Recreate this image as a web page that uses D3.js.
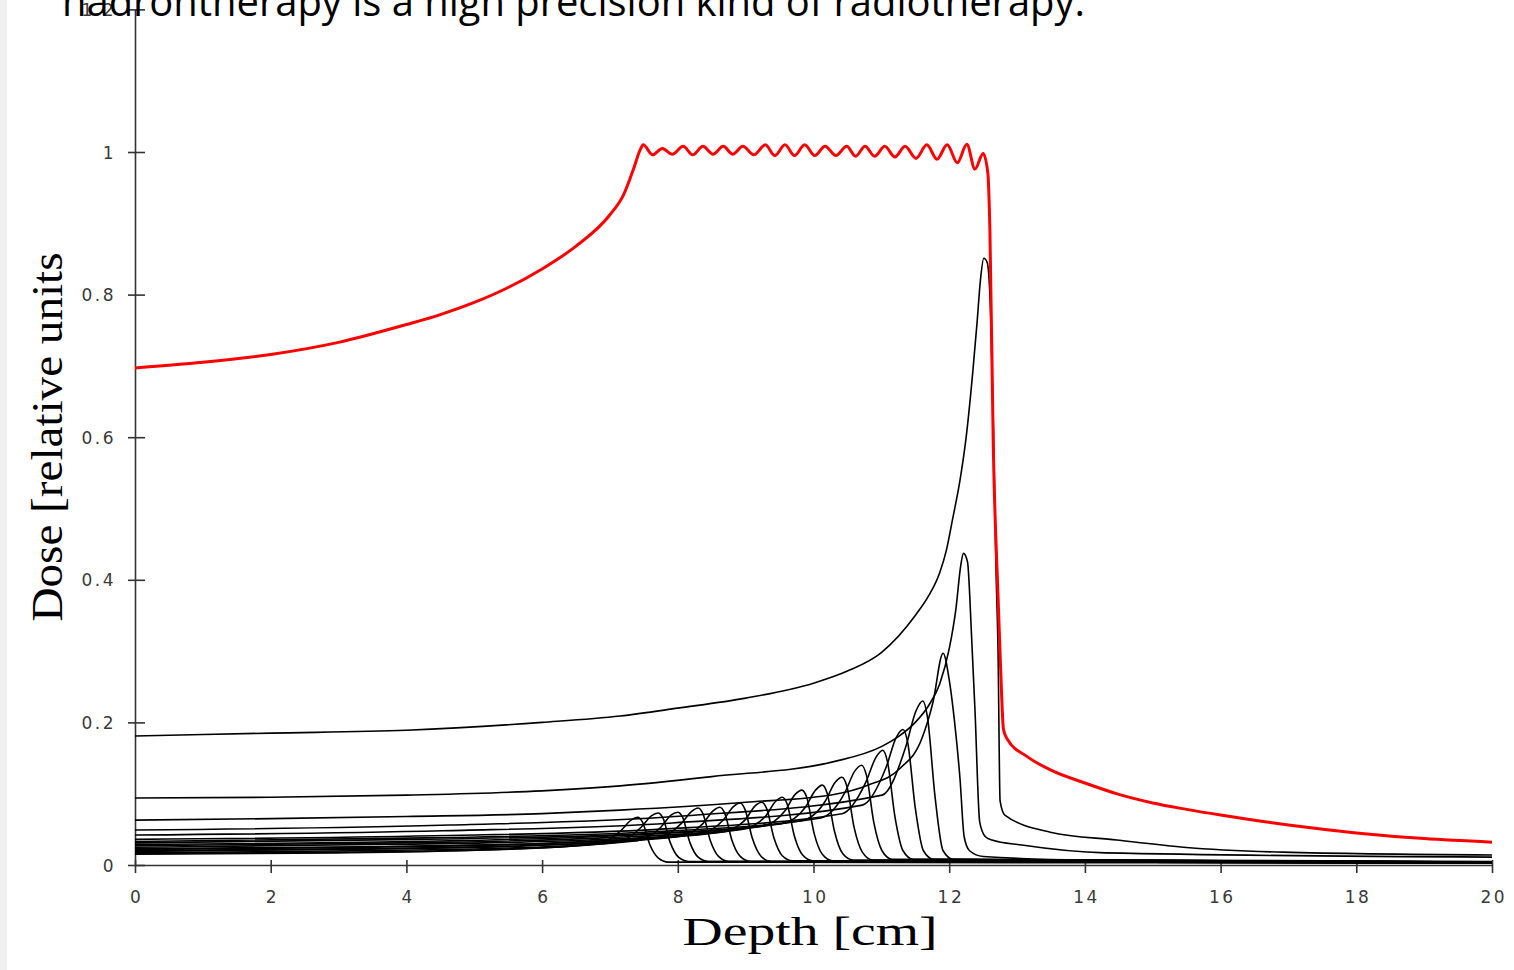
<!DOCTYPE html>
<html>
<head>
<meta charset="utf-8">
<script src="https://cdn.jsdelivr.net/npm/d3@7"></script>
<style>
body{margin:0;background:#fff;overflow:hidden;}
.tickLabel{font-family:"DejaVu Sans",sans-serif;font-size:17px;fill:#3a3a3a;letter-spacing:2.5px;}
.axisTitle{font-family:"Liberation Serif","Times New Roman",serif;fill:#000;}
</style>
</head>
<body>
<svg id="graph"></svg>
<script>
var xTicks=[0,2,4,6,8,10,12,14,16,18,20];
var yTicks=[0,0.2,0.4,0.6,0.8,1,1.2];

var sobpDepth=[0,1,2,3,4,4.5,5,5.5,6,6.5,7,7.2,7.35,7.45,
    7.49,7.63,7.77,7.92,8.08,8.22,8.37,8.52,8.67,8.81,8.96,9.12,9.29,9.43,9.58,9.72,9.87,10.02,
    10.17,10.33,10.49,10.62,10.76,10.9,11.05,11.2,11.35,11.51,11.67,11.82,11.97,12.12,12.26,12.38,12.5,
    12.57,12.6,12.65,12.72,12.76,12.8,12.86,13.15,13.5,14,14.5,15,15.5,16,17,18,19,20];
var sobpDose=[0.697,0.705,0.716,0.733,0.758,0.772,0.789,0.81,0.836,0.868,0.912,0.94,0.977,1.004,
    1.01,0.996,1.005,0.997,1.008,0.996,1.008,0.997,1.008,0.997,1.008,0.996,1.01,0.995,1.01,0.995,1.01,0.995,
    1.008,0.995,1.008,0.994,1.008,0.994,1.008,0.993,1.008,0.991,1.01,0.99,1.01,0.985,1.011,0.976,0.998,
    0.97,0.89,0.586,0.376,0.27,0.19,0.176,0.152,0.133,0.115,0.099,0.087,0.078,0.07,0.056,0.045,0.037,0.032];

var braggPeaks=[
    [[0,0.181],[2,0.185],[4,0.189],[6,0.2],[7.15,0.209],[8,0.22],[9,0.234],[10,0.255],[10.5,0.272],[11,0.298],[11.5,0.35],[11.7,0.378],[11.86,0.41],[11.96,0.442],[12.05,0.485],[12.16,0.54],[12.25,0.6],[12.35,0.694],[12.41,0.76],[12.46,0.82],[12.51,0.851],[12.56,0.845],[12.61,0.774],[12.65,0.62],[12.69,0.414],[12.72,0.3],[12.75,0.09],[12.82,0.07],[13.49,0.046],[14.47,0.035],[15.45,0.025],[16.92,0.018],[20,0.014]],
    [[0,0.094],[2,0.095],[4,0.098],[6,0.104],[7.15,0.111],[8.5,0.124],[10.3,0.145],[11,0.166],[11.25,0.18],[11.5,0.2],[11.7,0.224],[11.86,0.254],[12.0,0.303],[12.1,0.36],[12.17,0.42],[12.21,0.437],[12.27,0.425],[12.33,0.32],[12.38,0.217],[12.45,0.06],[12.53,0.04],[12.63,0.035],[13.07,0.028],[14.3,0.017],[20,0.011]],
    [[0,0.063],[2,0.065],[4,0.068],[6,0.072],[7.15,0.077],[9,0.088],[10.3,0.099],[10.8,0.112],[11.27,0.135],[11.6,0.178],[11.76,0.228],[11.91,0.297],[12.0,0.26],[12.08,0.2],[12.16,0.12],[12.22,0.04],[12.3,0.02],[12.5,0.012],[14,0.007],[20,0.005]],
    [[0,0.049],[4.64,0.056],[8.13,0.069],[11.01,0.098],[11.36,0.166],[11.51,0.216],[11.61,0.230],[11.68,0.207],[11.79,0.097],[11.91,0.02],[12.06,0.008],[20,0.004]],
    [[0,0.042],[4.53,0.048],[7.92,0.059],[10.72,0.084],[11.07,0.137],[11.22,0.179],[11.32,0.190],[11.39,0.171],[11.50,0.080],[11.62,0.02],[11.77,0.008],[20,0.004]],
    [[0,0.036],[4.41,0.041],[7.71,0.050],[10.42,0.072],[10.77,0.116],[10.92,0.151],[11.02,0.161],[11.09,0.145],[11.20,0.068],[11.32,0.02],[11.47,0.008],[20,0.004]],
    [[0,0.033],[4.28,0.038],[7.50,0.046],[10.11,0.066],[10.46,0.101],[10.61,0.132],[10.71,0.140],[10.78,0.126],[10.89,0.059],[11.01,0.02],[11.16,0.008],[20,0.004]],
    [[0,0.031],[4.17,0.036],[7.29,0.043],[9.82,0.062],[10.17,0.089],[10.32,0.116],[10.42,0.123],[10.49,0.111],[10.60,0.052],[10.72,0.018],[10.87,0.007],[20,0.004]],
    [[0,0.029],[4.05,0.033],[7.09,0.041],[9.53,0.058],[9.88,0.081],[10.03,0.105],[10.13,0.112],[10.20,0.101],[10.31,0.047],[10.43,0.016],[10.58,0.007],[20,0.003]],
    [[0,0.027],[3.93,0.031],[6.88,0.038],[9.23,0.054],[9.58,0.076],[9.73,0.099],[9.83,0.105],[9.90,0.095],[10.01,0.044],[10.13,0.015],[10.28,0.006],[20,0.003]],
    [[0,0.025],[3.82,0.029],[6.68,0.035],[8.94,0.050],[9.29,0.068],[9.44,0.089],[9.54,0.095],[9.61,0.086],[9.72,0.040],[9.84,0.014],[9.99,0.006],[20,0.003]],
    [[0,0.023],[3.70,0.026],[6.47,0.032],[8.64,0.046],[8.99,0.063],[9.14,0.083],[9.24,0.088],[9.31,0.079],[9.42,0.037],[9.54,0.013],[9.69,0.006],[20,0.003]],
    [[0,0.022],[3.57,0.025],[6.24,0.031],[8.32,0.044],[8.67,0.063],[8.82,0.082],[8.92,0.087],[8.99,0.078],[9.10,0.037],[9.22,0.013],[9.37,0.005],[20,0.003]],
    [[0,0.020],[3.45,0.023],[6.03,0.028],[8.02,0.040],[8.37,0.058],[8.52,0.076],[8.62,0.081],[8.69,0.073],[8.80,0.034],[8.92,0.012],[9.07,0.005],[20,0.003]],
    [[0,0.019],[3.32,0.022],[5.81,0.027],[7.70,0.038],[8.05,0.058],[8.20,0.075],[8.30,0.080],[8.37,0.072],[8.48,0.034],[8.60,0.012],[8.75,0.005],[20,0.003]],
    [[0,0.017],[3.20,0.020],[5.60,0.024],[7.40,0.034],[7.75,0.053],[7.90,0.070],[8.00,0.074],[8.07,0.067],[8.18,0.031],[8.30,0.011],[8.45,0.005],[20,0.003]],
    [[0,0.016],[3.08,0.018],[5.40,0.022],[7.11,0.032],[7.46,0.053],[7.61,0.069],[7.71,0.073],[7.78,0.066],[7.89,0.031],[8.01,0.011],[8.16,0.005],[20,0.003]],
    [[0,0.015],[2.96,0.017],[5.19,0.021],[6.81,0.030],[7.16,0.048],[7.31,0.063],[7.41,0.067],[7.48,0.060],[7.59,0.028],[7.71,0.010],[7.86,0.004],[20,0.003]]
];

var titleText="hadrontherapy is a high precision kind of radiotherapy.";
var xLabel="Depth [cm]";
var yLabel="Dose [relative units";

var initGraph=function()
    {
        var screen={width:1514,height:970}
        var margins={left:135,right:22,top:9.4,bottom:105}

        var svg=d3.select("#graph")
            .attr("width",screen.width)
            .attr("height",screen.height)

        svg.append("rect")
            .attr("x",0).attr("y",0)
            .attr("width",7).attr("height",screen.height)
            .attr("fill","#f0f0f0")

        var xScale=d3.scaleLinear()
            .domain([0,20])
            .range([margins.left,screen.width-margins.right])
        var yScale=d3.scaleLinear()
            .domain([0,1.2])
            .range([screen.height-margins.bottom,margins.top])

        drawAxes(svg,xScale,yScale)
        drawLines(svg,xScale,yScale)
        drawLabels(svg,xScale,yScale)
    }

var drawAxes=function(svg,xScale,yScale)
    {
        var xAxis=d3.axisBottom(xScale)
            .tickValues(xTicks)
            .tickSizeInner(0)
            .tickSizeOuter(0)
            .tickFormat(function(d){return String(d);})
        var gx=svg.append("g")
            .attr("transform","translate(0,"+yScale(0)+")")
            .call(xAxis)
        gx.select(".domain").attr("stroke","#333").attr("stroke-width",1.6)
        gx.selectAll(".tick line")
            .attr("y1",-5).attr("y2",8)
            .attr("stroke","#333").attr("stroke-width",1.6)
        gx.selectAll(".tick text")
            .attr("class","tickLabel")
            .attr("y",26).attr("dy","0.71em")
            .attr("dx","1.2px")

        var yAxis=d3.axisLeft(yScale)
            .tickValues(yTicks)
            .tickSizeInner(0)
            .tickSizeOuter(0)
            .tickFormat(function(d){return String(d);})
        var gy=svg.append("g")
            .attr("transform","translate("+xScale(0)+",0)")
            .call(yAxis)
        gy.select(".domain").attr("stroke","#333").attr("stroke-width",1.6)
        gy.selectAll(".tick line")
            .attr("x1",-7).attr("x2",10)
            .attr("stroke","#333").attr("stroke-width",1.6)
        gy.selectAll(".tick text")
            .attr("class","tickLabel")
            .attr("x",-19).attr("dy","0.36em")
        gx.attr("font-size",null).attr("font-family",null)
        gy.attr("font-size",null).attr("font-family",null)
    }

var drawLines=function(svg,xScale,yScale)
    {
        var lineGenerator=d3.line()
            .x(function(p){return xScale(p[0]);})
            .y(function(p){return yScale(p[1]);})
            .curve(d3.curveMonotoneX)

        svg.append("g")
            .selectAll("path")
            .data(braggPeaks)
            .enter()
            .append("path")
            .attr("d",lineGenerator)
            .attr("fill","none")
            .attr("stroke","#000")
            .attr("stroke-width",1.6)

        var sobp=sobpDepth.map(function(d,i){return [d,sobpDose[i]];})
        svg.append("path")
            .datum(sobp)
            .attr("d",lineGenerator)
            .attr("fill","none")
            .attr("stroke","#ff0000")
            .attr("stroke-width",3)
    }

var drawLabels=function(svg,xScale,yScale)
    {
        svg.append("text")
            .attr("class","axisTitle")
            .attr("x",810).attr("y",945)
            .attr("text-anchor","middle")
            .attr("font-size",41)
            .attr("textLength",255)
            .attr("lengthAdjust","spacingAndGlyphs")
            .text(xLabel)

        svg.append("text")
            .attr("class","axisTitle")
            .attr("transform","translate(62,437) rotate(-90)")
            .attr("text-anchor","middle")
            .attr("font-size",45)
            .attr("textLength",369)
            .attr("lengthAdjust","spacingAndGlyphs")
            .text(yLabel)

        svg.append("text")
            .attr("x",62).attr("y",16)
            .attr("font-family","'Open Sans',sans-serif")
            .attr("font-size",40)
            .attr("fill","#000")
            .attr("textLength",1023)
            .attr("lengthAdjust","spacingAndGlyphs")
            .text(titleText)
    }

initGraph();
</script>
</body>
</html>
